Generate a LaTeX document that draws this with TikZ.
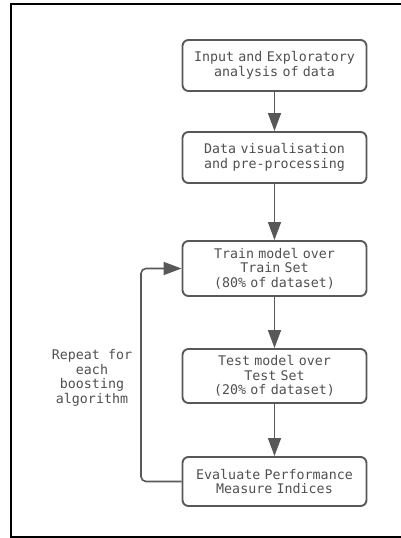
\documentclass[tikz,border=0pt]{standalone}
\usepackage{fontspec}
\setmonofont{DejaVu Sans Mono}
\usetikzlibrary{arrows.meta}
\definecolor{boxgray}{HTML}{585858}
\definecolor{txtgray}{HTML}{505050}
\tikzset{
  stepbox/.style={draw=boxgray, line width=1.9pt, rounded corners=6pt, fill=white,
    minimum width=184pt, text width=184pt, align=center, inner sep=0pt,
    font=\ttfamily\fontsize{13.3}{14.5}\selectfont, text=txtgray},
  flow/.style={draw=boxgray, line width=1.6pt, -{Triangle[length=18pt,width=13pt]}},
  lbl/.style={align=center, font=\ttfamily\fontsize{13.3}{14.5}\selectfont, text=txtgray}
}
\begin{document}
\begin{tikzpicture}[x=1pt,y=-1pt]
\useasboundingbox (0,0) rectangle (401,538);
\fill[white] (0,0) rectangle (401,538);
\draw[black, line width=2pt] (420,4) -- (11,4) -- (11,537) -- (420,537);
\node[stepbox, minimum height=51pt] (b1) at (274.5,65.5) {Input and Exploratory\\analysis of data};
\node[stepbox, minimum height=51pt] (b2) at (274.5,157.5) {Data visualisation\\and pre-processing};
\node[stepbox, minimum height=55pt] (b3) at (274.5,268.5) {Train model over\\Train Set\\(80\% of dataset)};
\node[stepbox, minimum height=54pt] (b4) at (274.5,376) {Test model over\\Test Set\\(20\% of dataset)};
\node[stepbox, minimum height=49pt] (b5) at (274.5,481.5) {Evaluate Performance\\Measure Indices};
\draw[flow] (b1) -- (b2);
\draw[flow] (b2) -- (b3);
\draw[flow] (b3) -- (b4);
\draw[flow] (b4) -- (b5);
\coordinate (lb) at (141,481.5);
\coordinate (lt) at (141,268.5);
\draw[flow, rounded corners=5pt] (b5.west) -- (lb) -- (lt) -- (b3.west);
\node[lbl] (rep) at (92,378) {Repeat for\\each\\boosting\\algorithm};
\end{tikzpicture}
\end{document}
